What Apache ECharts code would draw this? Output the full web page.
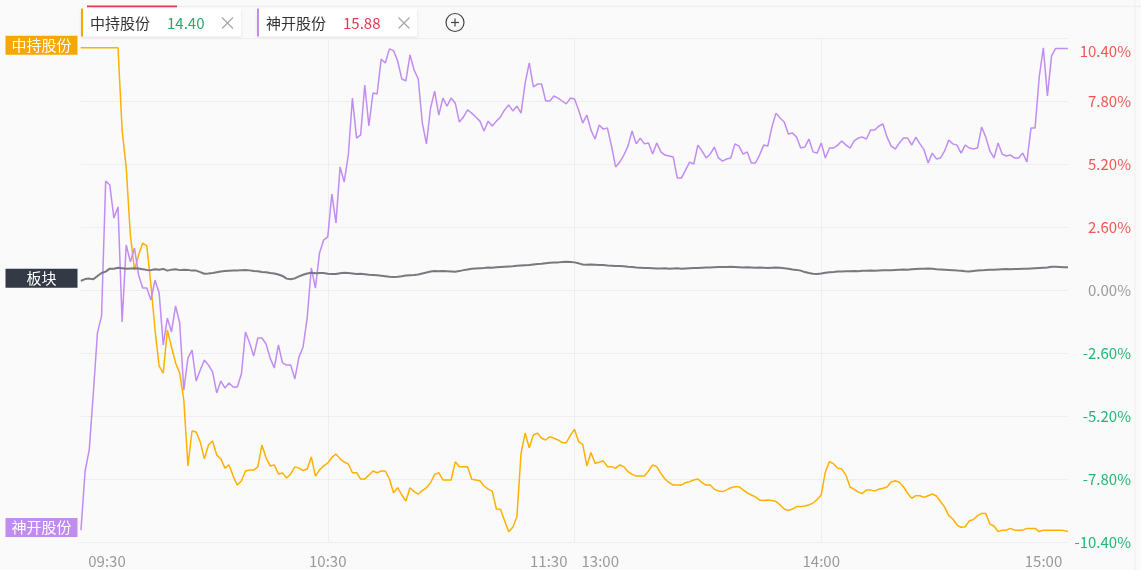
<!DOCTYPE html>
<html><head><meta charset="utf-8">
<script src="https://cdn.jsdelivr.net/npm/echarts@6/dist/echarts.min.js"></script>
<style>html,body{margin:0;padding:0;background:#fafafa}#c{width:1141px;height:570px}</style>
</head><body><div id="c"></div>
<script>
// ---------- data ----------
const stockNames = ['中持股份', '神开股份'];
const stockPrices = ['14.40', '15.88'];
const sectorName = '板块';
const tickIndex = [0, 60, 120, 180, 240];
const tickLabels = ['09:30', '10:30', '11:30', '13:00', '14:00', '15:00'];
const yMin = -10.4, yMax = 10.4, yStep = 2.6;

// minute categories 09:30-11:30, 13:01-15:00
function pad(n) { return (n < 10 ? '0' : '') + n; }
const categories = [];
for (let m = 9 * 60 + 30; m <= 11 * 60 + 30; m++) categories.push(pad(Math.floor(m / 60)) + ':' + pad(m % 60));
for (let m = 13 * 60 + 1; m <= 15 * 60; m++) categories.push(pad(Math.floor(m / 60)) + ':' + pad(m % 60));

// 中持股份 (% change)
const zhongchi = [
10,10,10,10,10,10,10,10,10,10,
6.60,5.04,2.27,0.83,1.44,1.94,1.82,0.21,-1.65,-3.14,
-3.43,-1.65,-2.35,-3.01,-3.43,-4.54,-7.26,-5.82,-5.86,-6.27,
-6.97,-6.40,-6.23,-6.81,-6.97,-7.35,-7.22,-7.68,-8.05,-7.88,
-7.47,-7.43,-7.43,-7.30,-6.40,-6.93,-7.26,-7.22,-7.59,-7.55,
-7.76,-7.59,-7.30,-7.35,-7.45,-7.39,-6.89,-7.68,-7.43,-7.26,
-7.14,-6.91,-6.77,-6.97,-7.10,-7.18,-7.54,-7.54,-7.80,-7.80,
-7.64,-7.47,-7.54,-7.47,-7.47,-7.80,-8.37,-8.16,-8.46,-8.71,
-8.16,-8.32,-8.42,-8.28,-8.16,-7.95,-7.61,-7.54,-7.84,-7.84,
-7.84,-7.09,-7.29,-7.29,-7.29,-7.81,-7.84,-7.87,-8.09,-8.22,
-8.30,-9.04,-9.05,-9.52,-9.98,-9.79,-9.36,-6.74,-5.91,-6.51,
-5.98,-5.91,-6.12,-6.19,-6.05,-6.12,-6.19,-6.30,-6.30,-6.00,
-5.75,-6.26,-6.37,-7.26,-6.71,-7.15,-7.11,-7.05,-7.29,-7.29,
-7.36,-7.22,-7.29,-7.50,-7.61,-7.68,-7.68,-7.68,-7.47,-7.22,
-7.29,-7.57,-7.80,-7.95,-8.05,-8.05,-8.05,-7.95,-7.91,-7.84,
-7.80,-7.95,-8.05,-8.05,-8.22,-8.30,-8.32,-8.25,-8.16,-8.12,
-8.12,-8.25,-8.37,-8.46,-8.54,-8.67,-8.69,-8.67,-8.69,-8.73,
-8.87,-9.04,-9.10,-9.04,-8.94,-8.94,-8.91,-8.87,-8.79,-8.65,
-8.46,-7.51,-7.08,-7.18,-7.36,-7.39,-7.64,-8.13,-8.23,-8.34,
-8.40,-8.25,-8.25,-8.30,-8.22,-8.18,-8.13,-7.92,-7.87,-7.94,
-8.12,-8.39,-8.60,-8.49,-8.49,-8.56,-8.49,-8.42,-8.50,-8.73,
-8.96,-9.31,-9.45,-9.70,-9.79,-9.77,-9.53,-9.47,-9.31,-9.22,
-9.22,-9.66,-9.74,-9.97,-9.91,-9.91,-9.84,-9.91,-9.91,-9.91,
-9.84,-9.84,-9.84,-9.97,-9.91,-9.91,-9.91,-9.91,-9.91,-9.93,-9.97
];

// 神开股份 (% change)
const shenkai = [
-9.90,-7.47,-6.60,-4.25,-1.77,-1.07,4.50,4.33,2.97,3.43,
-1.32,1.86,1.16,1.73,0.62,0.08,0.08,-0.41,0.41,-0.12,
-2.27,-1.16,-1.73,-0.66,-1.36,-4.13,-2.81,-2.48,-3.76,-3.30,
-2.89,-3.10,-3.38,-4.25,-3.76,-4.04,-3.84,-4.00,-4.00,-3.47,
-1.73,-2.19,-2.72,-1.98,-1.98,-2.23,-2.81,-3.22,-2.27,-3.01,
-3.10,-3.10,-3.67,-2.77,-2.35,-1.16,0.91,0.08,1.53,2.06,
2.19,3.96,2.77,5.08,4.46,5.57,7.92,6.27,6.40,8.46,
6.77,8.13,8.09,9.53,9.37,9.95,9.88,9.45,8.71,8.63,
9.70,9.08,8.71,6.89,6.03,7.51,8.21,7.22,7.92,7.59,
7.92,7.72,6.93,7.14,7.43,7.30,7.14,6.97,6.56,6.97,
6.77,6.97,7.14,7.43,7.64,7.39,7.59,7.30,8.54,9.37,
8.38,8.50,8.50,7.80,7.80,8.01,7.92,7.80,7.68,7.92,
7.88,7.43,6.89,7.22,6.60,6.23,6.81,6.64,6.69,5.94,
5.08,5.28,5.57,5.94,6.56,6.03,6.27,6.03,6.07,5.61,
6.07,5.70,5.57,5.53,5.49,4.62,4.62,4.95,5.28,5.20,
5.98,5.74,5.45,5.61,5.90,5.45,5.32,5.41,5.45,6.03,
5.94,5.61,5.70,5.24,5.24,5.57,5.98,5.94,6.73,7.30,
7.10,6.93,6.44,6.48,6.31,5.86,5.90,6.23,5.70,5.65,
6.07,5.45,5.86,5.86,5.98,6.15,5.98,5.86,6.15,6.27,
6.31,6.23,6.60,6.60,6.77,6.85,6.31,5.94,5.82,6.07,
6.27,6.27,5.98,6.31,6.03,5.78,5.24,5.65,5.41,5.45,
5.74,6.19,6.03,5.98,5.65,5.98,5.86,5.82,5.86,6.73,
6.31,5.74,5.45,6.07,5.61,5.53,5.57,5.45,5.45,5.65,
5.28,6.69,6.69,8.79,9.99,8.01,9.66,9.97,9.97,9.97,9.97
];

// 板块 (% change)
const sector = [
0.38,0.45,0.47,0.44,0.58,0.70,0.76,0.88,0.88,0.92,
0.90,0.88,0.89,0.90,0.89,0.86,0.83,0.82,0.86,0.84,
0.87,0.80,0.84,0.86,0.82,0.84,0.83,0.80,0.80,0.74,
0.67,0.68,0.70,0.73,0.76,0.78,0.79,0.80,0.80,0.82,
0.83,0.81,0.78,0.77,0.74,0.73,0.70,0.68,0.64,0.58,
0.47,0.44,0.48,0.56,0.63,0.68,0.71,0.69,0.70,0.70,
0.67,0.66,0.66,0.69,0.71,0.70,0.68,0.66,0.67,0.65,
0.63,0.62,0.61,0.59,0.57,0.55,0.54,0.55,0.57,0.60,
0.61,0.62,0.64,0.68,0.72,0.76,0.78,0.77,0.78,0.77,
0.76,0.75,0.78,0.82,0.85,0.88,0.89,0.90,0.91,0.93,
0.92,0.94,0.95,0.96,0.97,0.98,1.00,1.01,1.02,1.03,
1.05,1.07,1.08,1.10,1.12,1.13,1.14,1.16,1.17,1.16,
1.14,1.10,1.05,1.04,1.05,1.04,1.03,1.03,1.01,1.00,
0.99,0.99,0.98,0.96,0.95,0.93,0.92,0.91,0.91,0.90,
0.89,0.89,0.90,0.88,0.89,0.90,0.88,0.89,0.90,0.91,
0.91,0.92,0.93,0.93,0.94,0.95,0.95,0.95,0.96,0.95,
0.94,0.93,0.94,0.93,0.92,0.93,0.92,0.91,0.92,0.93,
0.92,0.90,0.88,0.85,0.83,0.80,0.74,0.70,0.67,0.66,
0.68,0.71,0.73,0.74,0.76,0.76,0.77,0.77,0.78,0.77,
0.79,0.79,0.80,0.79,0.80,0.81,0.81,0.82,0.83,0.84,
0.85,0.84,0.86,0.87,0.88,0.88,0.89,0.88,0.86,0.85,
0.84,0.83,0.82,0.80,0.79,0.77,0.76,0.78,0.80,0.81,
0.83,0.84,0.84,0.85,0.86,0.87,0.86,0.87,0.87,0.88,
0.88,0.89,0.90,0.91,0.92,0.93,0.96,0.96,0.95,0.94,0.94
];

// ---------- styles ----------
const FONT = '"Noto Sans CJK SC", "Noto Sans", sans-serif';
const C_ZC = '#ffb000', C_ZC_TAG = '#f7a700';
const C_SK = '#c18cf3', C_SK_TAG = '#c08cf0';
const C_SEC = '#78787e', C_SEC_TAG = '#333a46';
const UP = '#f25555', DOWN = '#22b573', FLAT = '#9a9a9a';
const AX = 15;

function withTag(values, name, bg) {
  return values.map(function (v, i) {
    if (i !== 0) return v;
    return {
      value: v, symbol: 'circle', symbolSize: 1,
      label: {
        show: true, position: 'left', distance: 3, offset: [0, -2.5],
        formatter: '{a|' + name + '}',
        rich: { a: { width: 72, height: 19, lineHeight: 19, align: 'center', verticalAlign: 'middle',
          backgroundColor: bg, color: '#fff', fontSize: 15, fontFamily: FONT } }
      }
    };
  });
}

const chart = echarts.init(document.getElementById('c'), null, { renderer: 'canvas' });

function closeX(cx, cy) {
  return [
    { type: 'line', shape: { x1: cx - 5.5, y1: cy - 5.5, x2: cx + 5.5, y2: cy + 5.5 }, style: { stroke: '#a8a8a8', lineWidth: 1.2 } },
    { type: 'line', shape: { x1: cx + 5.5, y1: cy - 5.5, x2: cx - 5.5, y2: cy + 5.5 }, style: { stroke: '#a8a8a8', lineWidth: 1.2 } }
  ];
}

const graphics = [
  { type: 'rect', shape: { x: 87, y: 5.8, width: 1054, height: 1.2 }, style: { fill: '#eeeeee' } },
  { type: 'rect', shape: { x: 87, y: 5.5, width: 90, height: 1.8 }, style: { fill: '#e8384f' } },
  { type: 'rect', shape: { x: 1134.5, y: 0, width: 1, height: 570 }, style: { fill: '#efefef' } },
  // tab 1
  { type: 'rect', shape: { x: 81, y: 8.5, width: 160, height: 28 }, style: { fill: '#ffffff', shadowBlur: 3, shadowColor: 'rgba(0,0,0,0.10)', shadowOffsetY: 1 } },
  { type: 'rect', shape: { x: 81, y: 8.5, width: 2, height: 28 }, style: { fill: C_ZC_TAG } },
  { type: 'text', x: 90, y: 23, style: { text: stockNames[0], fill: '#333333', fontSize: 15, fontFamily: FONT, verticalAlign: 'middle' } },
  { type: 'text', x: 167, y: 23, style: { text: stockPrices[0], fill: '#1fab6b', fontSize: 15, fontFamily: FONT, verticalAlign: 'middle' } },
  // tab 2
  { type: 'rect', shape: { x: 257, y: 8.5, width: 160, height: 28 }, style: { fill: '#ffffff', shadowBlur: 3, shadowColor: 'rgba(0,0,0,0.10)', shadowOffsetY: 1 } },
  { type: 'rect', shape: { x: 257, y: 8.5, width: 2, height: 28 }, style: { fill: C_SK_TAG } },
  { type: 'text', x: 266, y: 23, style: { text: stockNames[1], fill: '#333333', fontSize: 15, fontFamily: FONT, verticalAlign: 'middle' } },
  { type: 'text', x: 343, y: 23, style: { text: stockPrices[1], fill: '#e8384f', fontSize: 15, fontFamily: FONT, verticalAlign: 'middle' } },
  // add button
  { type: 'circle', shape: { cx: 455, cy: 22.5, r: 9 }, style: { fill: 'none', stroke: '#444', lineWidth: 1.2 } },
  { type: 'line', shape: { x1: 451, y1: 22.5, x2: 459, y2: 22.5 }, style: { stroke: '#444', lineWidth: 1.2 } },
  { type: 'line', shape: { x1: 455, y1: 18.5, x2: 455, y2: 26.5 }, style: { stroke: '#444', lineWidth: 1.2 } }
].concat(closeX(227.5, 23)).concat(closeX(404, 23));

const splitIdx = [tickIndex[1], tickIndex[2], tickIndex[3]];

chart.setOption({
  animation: false,
  backgroundColor: '#fafafa',
  textStyle: { fontFamily: FONT },
  grid: { left: 81, right: 73, top: 38, bottom: 28 },
  xAxis: {
    type: 'category', data: categories, boundaryGap: false,
    axisLine: { show: false }, axisTick: { show: false },
    splitLine: { show: true, interval: function (i) { return splitIdx.indexOf(i) >= 0; }, lineStyle: { color: '#eeeeee', width: 1 } },
    axisLabel: {
      interval: function (i) { return tickIndex.indexOf(i) >= 0; },
      margin: 12, fontSize: AX, color: '#999999',
      formatter: function (v, i) {
        if (i === tickIndex[0]) return '{l|' + tickLabels[0] + '}';
        if (i === tickIndex[1]) return '{m|' + tickLabels[1] + '}';
        if (i === tickIndex[2]) return '{a|' + tickLabels[2] + '}{b|' + tickLabels[3] + '}';
        if (i === tickIndex[3]) return '{m|' + tickLabels[4] + '}';
        if (i === tickIndex[4]) return '{r|' + tickLabels[5] + '}';
        return '';
      },
      rich: {
        l: { padding: [0, 0, 0, 52], fontSize: AX, color: '#999999' },
        r: { padding: [0, 49, 0, 0], fontSize: AX, color: '#999999' },
        m: { fontSize: AX, color: '#999999' },
        a: { padding: [0, 7, 0, 0], fontSize: AX, color: '#999999' },
        b: { padding: [0, 0, 0, 7], fontSize: AX, color: '#999999' }
      }
    }
  },
  yAxis: {
    type: 'value', position: 'right', min: yMin, max: yMax, interval: yStep,
    axisLine: { show: false }, axisTick: { show: false },
    splitLine: { lineStyle: { color: '#eeeeee', width: 1 } },
    axisLabel: {
      margin: 63, align: 'right', fontSize: AX,
      color: function (v) { const n = parseFloat(v); return n > 1e-6 ? UP : (n < -1e-6 ? DOWN : FLAT); },
      formatter: function (v) {
        const s = (Math.abs(v) < 1e-6 ? 0 : v).toFixed(2) + '%';
        if (Math.abs(v - yMax) < 1e-6) return '{top|' + s + '}';
        return s;
      },
      rich: { top: { padding: [27, 0, 0, 0], fontSize: AX, color: UP } }
    }
  },
  graphic: graphics,
  series: [
    { name: stockNames[0], type: 'line', data: withTag(zhongchi, stockNames[0], C_ZC_TAG), symbol: 'none', showSymbol: true, clip: false,
      lineStyle: { color: C_ZC, width: 1.5 }, itemStyle: { color: C_ZC }, emphasis: { disabled: true }, z: 2 },
    { name: stockNames[1], type: 'line', data: withTag(shenkai, stockNames[1], C_SK_TAG), symbol: 'none', showSymbol: true, clip: false,
      lineStyle: { color: C_SK, width: 1.5 }, itemStyle: { color: C_SK }, emphasis: { disabled: true }, z: 3 },
    { name: sectorName, type: 'line', data: withTag(sector, sectorName, C_SEC_TAG), symbol: 'none', showSymbol: true, clip: false,
      lineStyle: { color: C_SEC, width: 2 }, itemStyle: { color: C_SEC }, emphasis: { disabled: true }, z: 4 }
  ]
});
</script>
</body></html>
